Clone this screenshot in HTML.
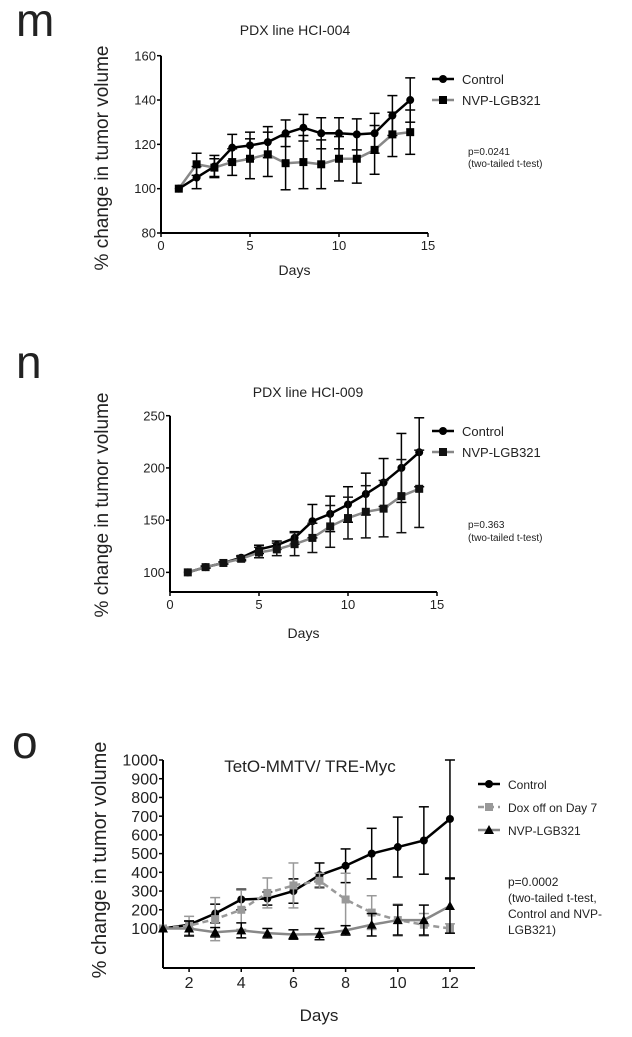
<!DOCTYPE html>
<html><head><meta charset="utf-8"><style>
body{margin:0;background:#fff;width:632px;height:1032px;overflow:hidden}
svg text{font-family:"Liberation Sans",Arial,sans-serif;fill:#222}
</style></head><body>
<svg id="s" width="632" height="1032">
<text x="16" y="36" font-size="46">m</text>
<text x="16" y="378" font-size="46">n</text>
<text x="12" y="758" font-size="46">o</text>
</svg>
<script>
const mDays=[1,2,3,4,5,6,7,8,9,10,11,12,13,14];
const mCtrl=[100,105,110,118.5,119.5,121,125,127.5,125,125,124.5,125,133,140];
const mCtrlErr=[0,5,5,6,6,7,6,6,7,7,7,9,9,10];
const mNvp=[100,111,109.5,112,113.5,115.5,111.5,112,111,113.5,113.5,117.5,124.5,125.5];
const mNvpErr=[0,5,4,6,9,10,12,12,11,10,11,11,10,10];
const mYTicks=[80,100,120,140,160];
const mXTicks=[0,5,10,15];
const nDays=[1,2,3,4,5,6,7,8,9,10,11,12,13,14];
const nCtrl=[100,105,109,114,122,126,133,149,156,165,175,186,200,215];
const nCtrlErr=[0,1,1,2,4,4,6,16,17,17,20,23,33,33];
const nNvp=[100,105,109,113,119,122,127,133,144,152,158,161,173,180];
const nNvpErr=[0,1,1,2,5,6,11,14,20,20,25,27,35,37];
const nYTicks=[100,150,200,250];
const nXTicks=[0,5,10,15];
const oDays=[1,2,3,4,5,6,7,8,9,10,11,12];
const oCtrl=[100,120,180,255,260,300,385,435,500,535,570,685];
const oCtrlErr=[0,20,50,55,35,65,65,90,135,160,180,315];
const oDox=[100,115,150,200,290,330,355,255,185,145,120,100];
const oDoxErr=[0,50,115,105,80,120,40,140,90,85,60,25];
const oNvp=[100,100,80,90,75,68,70,90,120,145,145,220];
const oNvpErr=[0,40,25,40,25,25,30,25,60,80,80,145];
const oYTicks=[100,200,300,400,500,600,700,800,900,1000];
const oXTicks=[2,4,6,8,10,12];
const NS='http://www.w3.org/2000/svg';
const svg=document.getElementById('s');
function el(t,a,txt){const e=document.createElementNS(NS,t);for(const k in a)e.setAttribute(k,a[k]);if(txt!==undefined)e.textContent=txt;svg.appendChild(e);return e;}
function marker(shape,x,y,c,s){
 let e;
 if(shape==='c')e=el('circle',{cx:x,cy:y,r:s,fill:c});
 else if(shape==='s')e=el('rect',{x:x-s,y:y-s,width:2*s,height:2*s,fill:c});
 else e=el('polygon',{points:`${x},${y-s-1} ${x-s-1},${y+s} ${x+s+1},${y+s}`,fill:c});
 return e;
}
function panel(p){
 const X=v=>p.x0+(v-p.xmin)/(p.xmax-p.xmin)*(p.x1-p.x0);
 const Y=v=>p.y0-(v-p.ymin)/(p.ymax-p.ymin)*(p.y0-p.y1);
 let e=el('line',{x1:p.x0,y1:p.y0,x2:p.x0,y2:p.yTop,stroke:'#000','stroke-width':2});
 
 e=el('line',{x1:p.x0,y1:p.y0,x2:p.x1,y2:p.y0,stroke:'#000','stroke-width':2});
 
 p.yt.forEach(v=>{el('line',{x1:p.x0-4,y1:Y(v),x2:p.x0,y2:Y(v),stroke:'#000','stroke-width':1.5});
  e=el('text',{x:p.x0-5,y:Y(v)+p.fs*0.35,'font-size':p.fs,'text-anchor':'end'},v);
  });
 p.xt.forEach(v=>{el('line',{x1:X(v),y1:p.y0,x2:X(v),y2:p.y0+4,stroke:'#000','stroke-width':1.5});
  e=el('text',{x:X(v),y:p.y0+p.fs+4,'font-size':p.fs,'text-anchor':'middle'},v);
  });
 e=el('text',{x:(p.x0+p.x1)/2,y:p.dy,'font-size':p.fs+1,'text-anchor':'middle'},'Days');
 
 e=el('text',{x:0,y:0,'font-size':p.yfs,'text-anchor':'middle',transform:`translate(${p.ytx},${p.yty}) rotate(-90)`},'% change in tumor volume');
 
 e=el('text',{x:p.tx,y:p.ty,'font-size':p.tfs,'text-anchor':'middle'},p.title);
 
 p.series.forEach((s,si)=>{
  const mc=s.mc||s.c;
  s.v.forEach((v,i)=>{const x=X(p.days[i]);if(s.e[i]>0){
   el('line',{x1:x,y1:Y(v-s.e[i]),x2:x,y2:Y(v+s.e[i]),stroke:mc,'stroke-width':1.5});
   [v-s.e[i],v+s.e[i]].forEach(w=>el('line',{x1:x-5,y1:Y(w),x2:x+5,y2:Y(w),stroke:mc,'stroke-width':1.5}));}});
  const pl=el('polyline',{points:s.v.map((v,i)=>X(p.days[i])+','+Y(v)).join(' '),fill:'none',stroke:s.c,'stroke-width':2.5,'stroke-dasharray':s.dash||'none'});
  
  s.v.forEach((v,i)=>{const m=marker(s.m,X(p.days[i]),Y(v),mc,4);
   });
  const ly=p.ly+si*p.lstep;
  el('line',{x1:p.lx,y1:ly,x2:p.lx+22,y2:ly,stroke:s.c,'stroke-width':2.5,'stroke-dasharray':s.dash||'none'});
  marker(s.m,p.lx+11,ly,mc,4);
  const lt=el('text',{x:p.lx+30,y:ly+5,'font-size':p.lfs},s.label);
  
 });
 p.ptxt.forEach((t,i)=>{const q=el('text',{x:p.px,y:p.py+i*p.pstep,'font-size':p.pfs},t);
  });
}
panel({id:'m',x0:161,x1:428,y0:233,y1:55.7,yTop:55.7,xmin:0,xmax:15,ymin:80,ymax:160,yt:mYTicks,xt:mXTicks,days:mDays,fs:13,
 dy:275,ytx:108,yty:158,yfs:19,tx:295,ty:35,tfs:14,title:'PDX line HCI-004',
 series:[{name:'control',label:'Control',v:mCtrl,e:mCtrlErr,c:'#000',m:'c'},{name:'nvp',label:'NVP-LGB321',v:mNvp,e:mNvpErr,c:'#888',m:'s',mc:'#000'}],
 lx:432,ly:79,lstep:21,lfs:13,ptxt:['p=0.0241','(two-tailed t-test)'],px:468,py:155,pstep:12,pfs:10});
panel({id:'n',x0:170,x1:437,y0:592,y1:415.7,yTop:415.7,xmin:0,xmax:15,ymin:81.2,ymax:250,yt:nYTicks,xt:nXTicks,days:nDays,fs:13,
 dy:638,ytx:108,yty:505,yfs:19,tx:308,ty:397,tfs:14,title:'PDX line HCI-009',
 series:[{name:'control',label:'Control',v:nCtrl,e:nCtrlErr,c:'#000',m:'c'},{name:'nvp',label:'NVP-LGB321',v:nNvp,e:nNvpErr,c:'#888',m:'s',mc:'#111'}],
 lx:432,ly:431,lstep:21,lfs:13,ptxt:['p=0.363','(two-tailed t-test)'],px:468,py:528,pstep:13,pfs:10});
panel({id:'o',x0:163,x1:475,y0:968,y1:760,yTop:760,xmin:1,xmax:12.96,ymin:-111,ymax:1000,yt:oYTicks,xt:oXTicks,days:oDays,fs:16,
 dy:1021,ytx:106,yty:860,yfs:20,tx:310,ty:772,tfs:17,title:'TetO-MMTV/ TRE-Myc',
 series:[{name:'control',label:'Control',v:oCtrl,e:oCtrlErr,c:'#000',m:'c'},
  {name:'dox',label:'Dox off on Day 7',v:oDox,e:oDoxErr,c:'#999',m:'s',dash:'6,4'},
  {name:'nvp',label:'NVP-LGB321',v:oNvp,e:oNvpErr,c:'#888',m:'t',mc:'#000'}],
 lx:478,ly:784,lstep:23,lfs:12,ptxt:['p=0.0002','(two-tailed t-test,','Control and NVP-','LGB321)'],px:508,py:886,pstep:16,pfs:12});
</script>
</body></html>
